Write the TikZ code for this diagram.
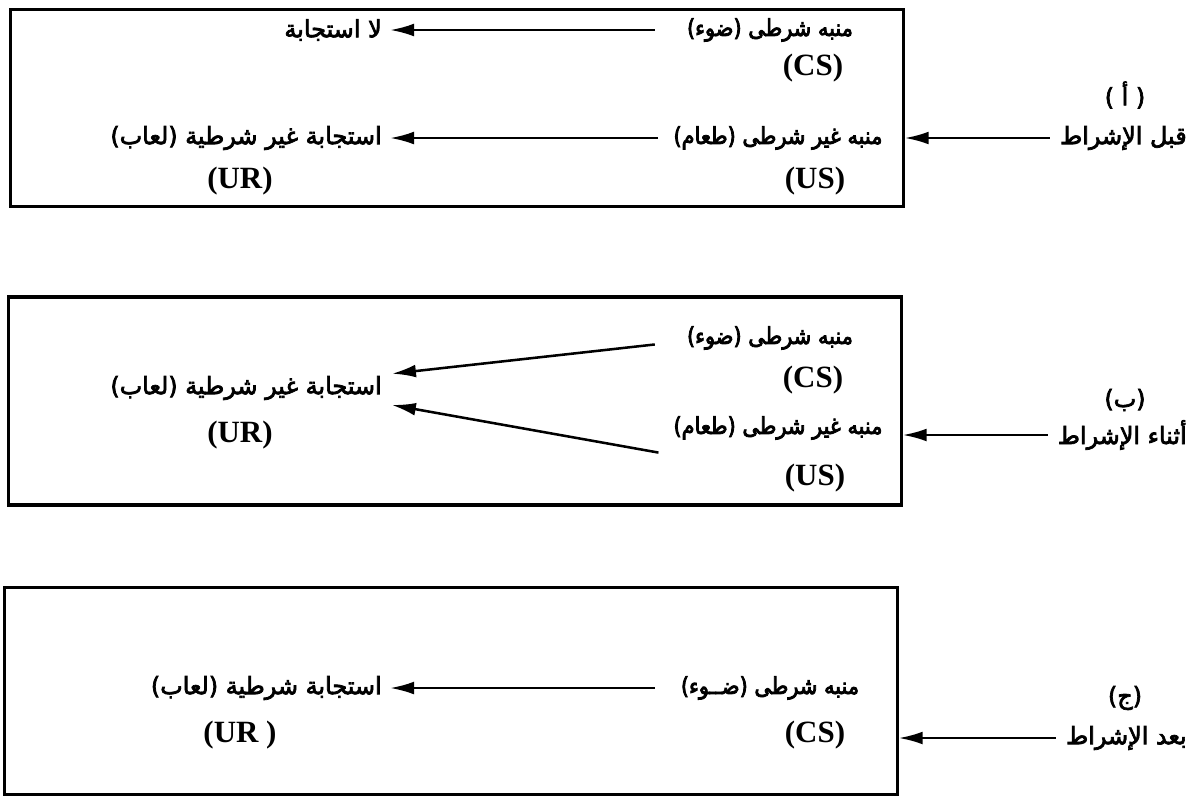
\documentclass[tikz,border=0pt]{standalone}
\usepackage{fontspec}
\setmainfont{Liberation Serif}
\newfontfamily\arabicfont[Script=Arabic,FakeBold=3]{DejaVu Sans}
\newfontfamily\stimfont[Script=Arabic,FakeBold=3.5,FakeStretch=0.9]{DejaVu Sans}
\TeXXeTstate=1
\usetikzlibrary{positioning,arrows.meta}
\tikzset{panel/.style={draw, line width=2.2pt, minimum width=22.3cm, minimum height=5.15cm},
    ar/.style={inner sep=0pt, font=\arabicfont\fontsize{17}{20}\selectfont},
    stim/.style={inner sep=0pt, minimum width=5cm, font=\stimfont\fontsize{16.5}{20}\selectfont},
    en/.style={inner sep=0pt, font=\bfseries\fontsize{22}{26}\selectfont},
    arr/.style={->, line width=1.8pt}
}

\begin{document}
\begin{tikzpicture}[x=0.025cm,y=-0.025cm,>={Latex[length=6mm,width=3.2mm]}]
	\useasboundingbox (0,0) rectangle (1191,798);
	% (a) before conditioning
	\node[panel,minimum height=4.925cm] (b1) at (457,108) {};
	\node[stim] (s1a) at (770,30) {\beginR منبه شرطى (ضوء)\endR};
	\node[en] (s1aL) at (813,68) {(CS)};
	\node[stim] (s1b) at (778,138) {\beginR منبه غير شرطى (طعام)\endR};
	\node[en] (s1bL) at (815,181) {(US)};
	\node[ar,anchor=east] (r1a) at (382,30) {\beginR لا استجابة\endR};
	\node[ar,anchor=east] (r1b) at (382,138) {\beginR استجابة غير شرطية (لعاب)\endR};
	\node[en] (r1bL) at (240,181) {(UR)};
	\node[ar] (t1) at (1125,95) {\beginR ( أ )\endR};
	\node[ar,anchor=east] (p1) at (1187,138) {\beginR قبل الإشراط\endR};
	\draw[arr,shorten <=0.375cm,shorten >=0.2cm] (s1a.west) -- (r1a.east);
	\draw[arr,shorten <=0.375cm,shorten >=0.2cm] (s1b.west) -- (r1b.east);
	\draw[arr,shorten <=0.25cm] (p1.west) -- (p1.west -| b1.east);
	% (b) during conditioning
	\node[panel,minimum height=5.2cm] (b2) at (455,401) {};
	\node[stim] (s2a) at (770,338) {\beginR منبه شرطى (ضوء)\endR};
	\node[en] (s2aL) at (813,380) {(CS)};
	\node[stim] (s2b) at (778,428) {\beginR منبه غير شرطى (طعام)\endR};
	\node[en] (s2bL) at (815,478) {(US)};
	\node[ar,anchor=east] (r2) at (382,388) {\beginR استجابة غير شرطية (لعاب)\endR};
	\node[en] (r2L) at (240,435) {(UR)};
	\node[ar] (t2) at (1125,400) {\beginR (ب)\endR};
	\node[ar,anchor=east] (p2) at (1187,435) {\beginR أثناء الإشراط\endR};
	\draw[arr,shorten <=0.375cm,shorten >=0.25cm] ([yshift=-0.12cm]s2a.west) -- ([yshift=0.33cm]r2.east);
	\draw[arr,shorten <=0.375cm,shorten >=0.25cm] ([yshift=-0.68cm]s2b.west) -- ([yshift=-0.38cm]r2.east);
	\draw[arr,shorten <=0.25cm] (p2.west) -- (p2.west -| b2.east);
	% (c) after conditioning
	\node[panel,minimum height=5.175cm] (b3) at (451,691) {};
	\node[stim] (s3) at (770,688) {\beginR منبه شرطى (ضــوء)\endR};
	\node[en] (s3L) at (815,735) {(CS)};
	\node[ar,anchor=east] (r3) at (382,688) {\beginR استجابة شرطية (لعاب)\endR};
	\node[en] (r3L) at (240,735) {(UR )};
	\node[ar] (t3) at (1125,698) {\beginR (ج)\endR};
	\node[ar,anchor=east] (p3) at (1187,738) {\beginR بعد الإشراط\endR};
	\draw[arr,shorten <=0.375cm,shorten >=0.2cm] (s3.west) -- (r3.east);
	\draw[arr,shorten <=0.25cm] (p3.west) -- (p3.west -| b3.east);
\end{tikzpicture}
\end{document}
